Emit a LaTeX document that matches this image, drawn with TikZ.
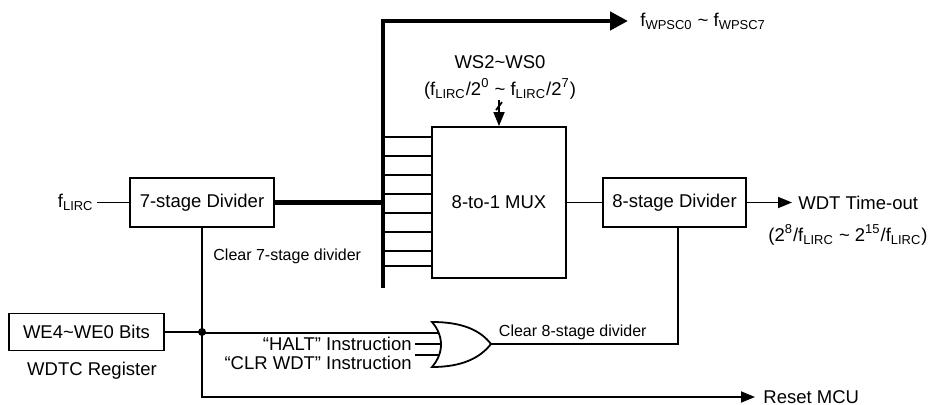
\documentclass[tikz,border=0pt]{standalone}
\usepackage{fontspec}
\setmainfont{Liberation Sans}
\usetikzlibrary{arrows.meta}
\tikzset{
  box/.style={draw, line width=0.9pt, inner sep=0pt, minimum height=24.5pt},
  lbl/.style={inner sep=1.5pt},
  small/.style={inner sep=1pt, font=\fontsize{8}{9.6}\selectfont},
  wire/.style={line width=0.9pt},
  bus/.style={line width=2.2pt},
  tip/.style={-{Triangle[length=7pt,width=5.5pt]}},
  bigtip/.style={-{Triangle[length=9pt,width=9pt]}},
}

\begin{document}
\begin{tikzpicture}[x=0.5pt, y=-0.5pt, font=\fontsize{9.25}{11}\selectfont]
  \useasboundingbox (0,0) rectangle (929,405);
  % dividers, mux and register
  \node[box, minimum width=72pt] (div7) at (202,202.5) {7-stage Divider};
  \node[box, minimum width=67pt, minimum height=75.5pt] (mux) at (499,202.5) {8-to-1 MUX};
  \node[box, minimum width=71.5pt] (div8) at (674.5,202.5) {8-stage Divider};
  \node[box, minimum width=77.5pt, minimum height=18.5pt] (we) at (86.5,332) {WE4\textasciitilde WE0 Bits};
  \node[lbl] (wdtc) at (92,371) {WDTC Register};
  % clock input
  \node[lbl, anchor=east] (flirc) at (97,202.5) {f\textsubscript{LIRC}};
  \draw[wire] (flirc.east) -- (div7.west);
  % prescaler bus
  \coordinate (bustop) at (383,21);
  \coordinate (busbot) at (383,288);
  \node[lbl, anchor=west] (fwpsc) at (637,21) {f\textsubscript{WPSC0} \textasciitilde{} f\textsubscript{WPSC7}};
  \draw[bus, bigtip, shorten >=4.5pt] (busbot) -- (bustop) -- (fwpsc.west);
  \draw[bus] (div7.east) -- (div7.east -| bustop);
  \foreach \y in {137,156,175,194,213,232,251,266}
    \draw[wire] (bustop |- 0,\y) -- (mux.west |- 0,\y);
  % select input
  \coordinate (sel) at ([yshift=13pt]mux.north);
  \node (ws) at (500,62) {WS2\textasciitilde WS0};
  \node (wsrange) at (500,89) {(f\textsubscript{LIRC}/2\textsuperscript{0} \textasciitilde{} f\textsubscript{LIRC}/2\textsuperscript{7})};
  \draw[wire, tip] (sel) -- (mux.north);
  \draw[wire] ([shift={(-3,10)}]sel) -- ([shift={(3,2)}]sel);
  % mux to 8-stage divider and time-out
  \draw[wire] (mux.east) -- (div8.west);
  \node[lbl, anchor=west] (timeout) at (795,202.5) {WDT Time-out};
  \node[lbl] (period) at (848,235) {(2\textsuperscript{8}/f\textsubscript{LIRC} \textasciitilde{} 2\textsuperscript{15}/f\textsubscript{LIRC})};
  \draw[wire, tip, shorten >=1.5pt] (div8.east) -- (timeout.west);
  % OR gate inputs
  \coordinate (dot) at (div7.south |- we.east);
  \coordinate (orin1) at (446,333);
  \coordinate (orin2) at (446,344);
  \coordinate (orin3) at (446,355);
  \coordinate (orout) at (491,344);
  \node[lbl, anchor=east] (halt) at (415,344) {“HALT” Instruction};
  \node[lbl, anchor=east] (clrwdt) at (415,363) {“CLR WDT” Instruction};
  \draw[wire] (we.east) -- (dot) -- (dot |- orin1) -- (orin1);
  \draw[wire] (halt.east) -- (orin2);
  \draw[wire] (orin3 -| clrwdt.east) -- (orin3);
  \fill (dot) circle (2pt);
  % OR gate body
  \draw[wire, fill=white] (432,322) .. controls (444,336) and (444,353) .. (432,367)
    .. controls (462,367) and (480,358) .. (orout)
    .. controls (480,330) and (462,322) .. (432,322) -- cycle;
  % clear 8-stage divider
  \node[small, anchor=east] (clr8) at (649,332) {Clear 8-stage divider};
  \draw[wire] ([xshift=1.75pt]div8.south) -- ([xshift=1.75pt]div8.south |- orout) -- (orout);
  % clear 7-stage divider and reset
  \node[small, anchor=west] (clr7) at (211,256) {Clear 7-stage divider};
  \node[lbl, anchor=west] (reset) at (760,397) {Reset MCU};
  \draw[wire, tip, shorten >=2.5pt] (div7.south) -- (div7.south |- reset.west) -- (reset.west);
\end{tikzpicture}
\end{document}
